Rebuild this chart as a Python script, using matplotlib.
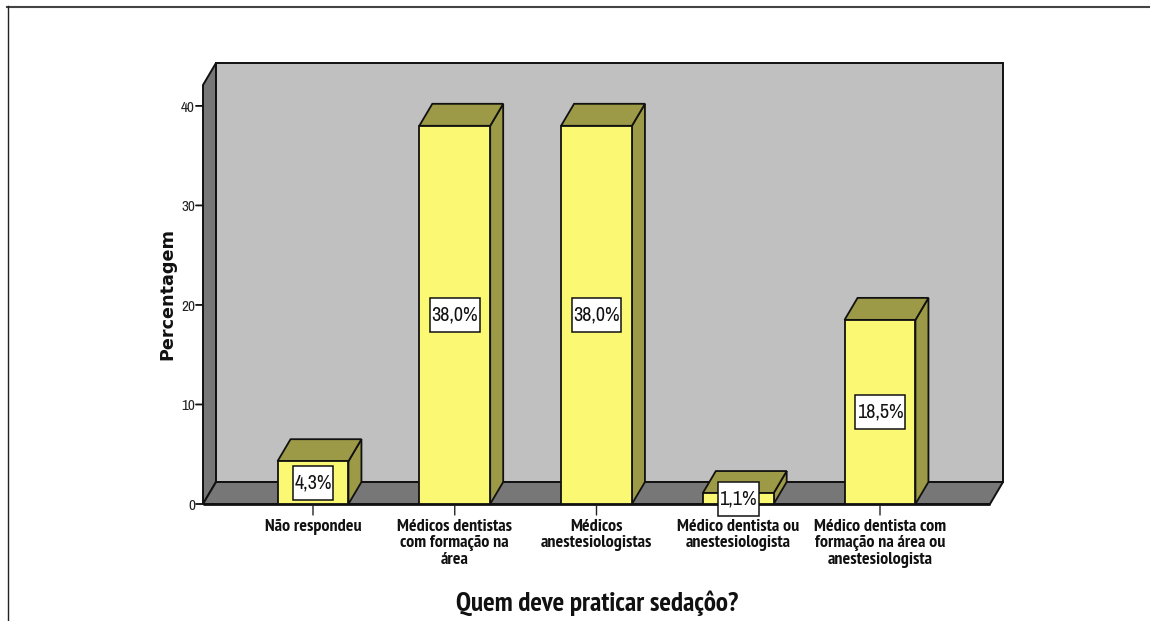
import matplotlib
matplotlib.use("Agg")
import matplotlib.pyplot as plt
from matplotlib.patches import Polygon, Rectangle

categories = ["Não respondeu", "Médicos dentistas\ncom formação na\nárea", "Médicos\nanestesiologistas",
              "Médico dentista ou\nanestesiologista", "Médico dentista com\nformação na área ou\nanestesiologista"]
values = [4.3, 38.0, 38.0, 1.1, 18.5]
value_labels = ["4,3%", "38,0%", "38,0%", "1,1%", "18,5%"]
y_ticks = [0, 10, 20, 30, 40]

NARROW = ["Archivo Narrow", "Liberation Sans"]
BOLD_NARROW = ["PT Sans Narrow", "Pragati Narrow", "IBM Plex Sans Condensed", "Liberation Sans"]

W, H = 1150, 621
DX, DY = 13, 22
fig = plt.figure(figsize=(W / 100, H / 100), dpi=100, facecolor="white")
ax = fig.add_axes([203 / W, 1 - 504 / H, (990 - 203) / W, (504 - 85) / H])
ax.set_xlim(-0.776, 4.776)
ax.set_ylim(0, 42.1)
ax.axis("off")

x0, x1 = ax.get_xlim()
y0, y1 = ax.get_ylim()
edge = "#111111"
renderer = fig.canvas.get_renderer()


def quad(pts_front, pts_back, fc, lw=1.4, z=1):
    xy = [ax.transData.transform(p) for p in pts_front]
    xy += [ax.transData.transform(p) + (DX, DY) for p in pts_back]
    ax.add_patch(Polygon(xy, closed=True, transform=None, facecolor=fc, edgecolor=edge,
                         lw=lw, zorder=z, clip_on=False, joinstyle="miter"))


# walls
quad([(x0, y0), (x0, y1)], [(x0, y1), (x0, y0)], "#777777", z=1)
quad([], [(x0, y0), (x0, y1), (x1, y1), (x1, y0)], "#C0C0C0", z=1)
quad([(x0, y0), (x1, y0)], [(x1, y0), (x0, y0)], "#777777", z=1.1)
ax.plot([x0, x1], [0, 0], color=edge, lw=2, zorder=1.2, clip_on=False, solid_capstyle="butt")

# bars
BW = 0.25
for i, v in enumerate(values):
    l, r = i - BW, i + BW
    z = 2
    quad([(r, 0), (r, v)], [(r, v), (r, 0)], "#9C9A47", lw=1.3, z=z)
    quad([(l, v), (r, v)], [(r, v), (l, v)], "#9C9A47", lw=1.3, z=z)
    ax.bar(i, v, width=2 * BW, color="#FBF873", edgecolor=edge, lw=1.3, zorder=z + 0.1, clip_on=False)
    ax.annotate("", xy=(i, 0), xytext=(0, -11), textcoords="offset pixels",
                arrowprops=dict(arrowstyle="-", color="#222222", lw=1, shrinkA=0, shrinkB=0), zorder=1.5)
    ax.annotate(categories[i], xy=(i, 0), xytext=(0, -15), textcoords="offset pixels", ha="center", va="top",
                family=BOLD_NARROW, weight="bold", fontsize=13, linespacing=1.03, color="#111111")
    label = ax.annotate(value_labels[i], xy=(i, v / 2), ha="center", va="center", family=NARROW, fontsize=14.5,
                        color="#111111", zorder=5)
    tw = label.get_window_extent(renderer).width
    cx, cy = ax.transData.transform((i, v / 2))
    ax.add_patch(Rectangle((cx - tw / 2 - 1.5, cy - 17), tw + 3, 34, transform=None, fc="white", ec="#111111",
                           lw=1.1, zorder=4.9, clip_on=False))

# y axis
for t in y_ticks:
    ax.annotate("", xy=(x0, t), xytext=(-7, 0), textcoords="offset pixels",
                arrowprops=dict(arrowstyle="-", color="#111111", lw=1.3, shrinkA=0, shrinkB=0))
    ax.annotate(str(t), xy=(x0, t), xytext=(-8, -2), textcoords="offset pixels", ha="right", va="center",
                family=NARROW, fontsize=11, color="#222222")

fig.text(167 / W, 1 - 294 / H, "Percentagem", rotation=90, ha="center", va="center",
         family="DejaVu Sans", weight="bold", fontsize=12.7, color="#111111")
fig.text(597 / W, 1 - 603 / H, "Quem deve praticar sedaçôo?", ha="center", va="center",
         family=BOLD_NARROW, weight="bold", fontsize=19.6, color="#111111")

# outer frame
fig.add_artist(plt.Line2D([7 / W, 1], [1 - 6.5 / H] * 2, color="#444444", lw=1.5))
fig.add_artist(plt.Line2D([7.5 / W] * 2, [0, 1 - 6 / H], color="#222222", lw=1))

fig.savefig("out.png", dpi=100, facecolor="white")
